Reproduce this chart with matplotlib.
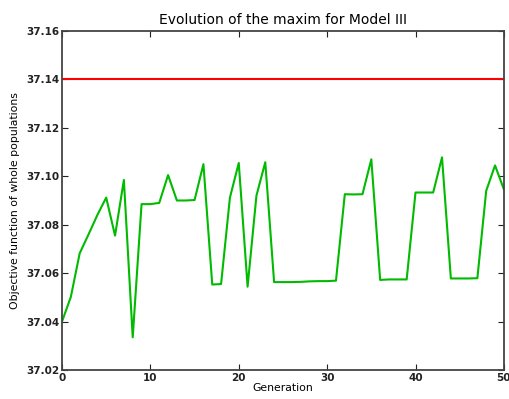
import matplotlib
matplotlib.use("Agg")
import matplotlib.pyplot as plt

generations = list(range(51))
best_fitness = [
    37.0400, 37.0502, 37.0682, 37.0760, 37.0840, 37.0912, 37.0755, 37.0985,
    37.0335, 37.0885, 37.0885, 37.0890, 37.1005, 37.0900, 37.0900, 37.0902,
    37.1050, 37.0553, 37.0555, 37.0912, 37.1055, 37.0544, 37.0920, 37.1058,
    37.0563, 37.0563, 37.0563, 37.0564, 37.0566, 37.0567, 37.0567, 37.0569,
    37.0926, 37.0925, 37.0926, 37.1070, 37.0572, 37.0574, 37.0574, 37.0574,
    37.0933, 37.0933, 37.0933, 37.1078, 37.0578, 37.0578, 37.0578, 37.0579,
    37.0940, 37.1045, 37.0946,
]
optimum = 37.14

x_ticks = [0, 10, 20, 30, 40, 50]
y_ticks = [37.02, 37.04, 37.06, 37.08, 37.10, 37.12, 37.14, 37.16]

fig = plt.figure(figsize=(5.10, 3.99), dpi=100)
ax = fig.add_axes([0.1216, 0.0727, 0.8664, 0.8496])

ax.axhline(optimum, color="#ff0000", linewidth=1.5)
ax.plot(generations, best_fitness, color="#00bb00", linewidth=1.5)

ax.set_xlim(0, 50)
ax.set_ylim(37.02, 37.16)
ax.set_xticks(x_ticks)
ax.set_yticks(y_ticks)
ax.set_yticklabels([f"{v:.2f}" for v in y_ticks])
ax.tick_params(direction="in", top=True, right=True, length=4, width=0.8,
               labelsize=7.5, colors="#222222", pad=2)
for lbl in ax.get_yticklabels() + ax.get_xticklabels():
    lbl.set_fontweight("bold")
for s in ax.spines.values():
    s.set_linewidth(1.3)
    s.set_color("#444444")

ax.set_title("Evolution of the maxim for Model III", fontsize=10, pad=5)
ax.set_xlabel("Generation", fontsize=7.8, labelpad=0)
ax.set_ylabel("Objective function of whole populations", fontsize=7.8, labelpad=4)

fig.savefig("out.png", dpi=100)
